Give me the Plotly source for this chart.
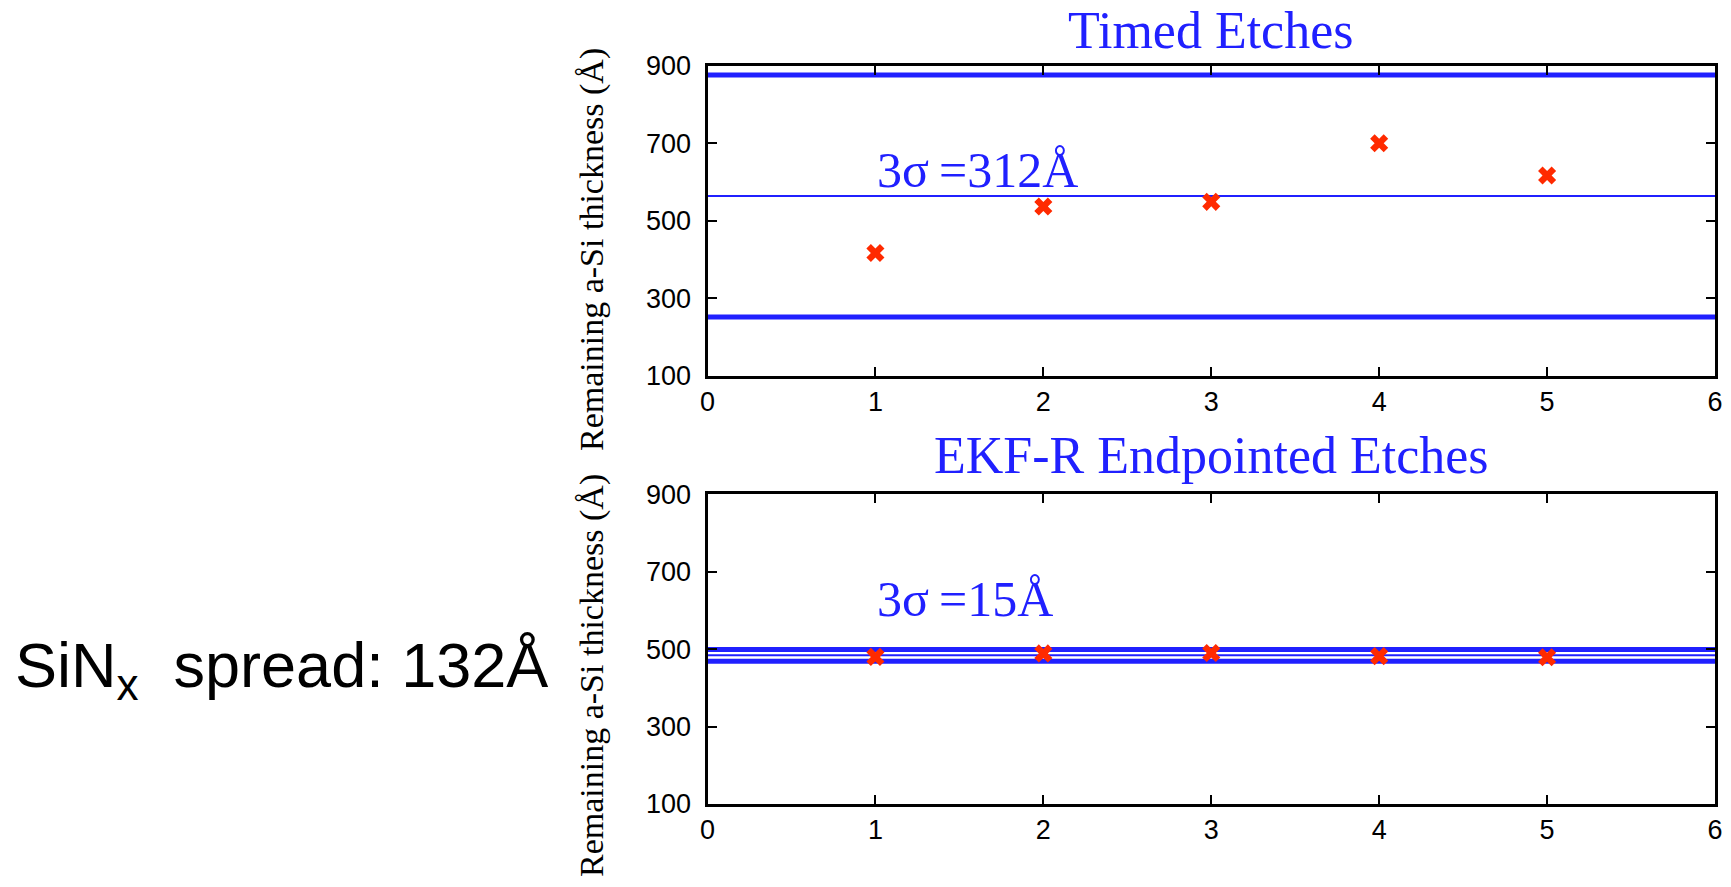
import numpy as np
import plotly.graph_objects as go

# Run index on the x axis
runs = [1, 2, 3, 4, 5]

# Remaining a-Si thickness (Å) per run
timed_thickness = [417, 537, 549, 700, 617]
ekf_thickness = [480, 489, 490, 482, 479]

# 3-sigma spreads (Å) quoted on each panel
timed_3sigma = 312
ekf_3sigma = 15

# Nitride spread quoted at the left
sinx_spread = 132

x_range = [0, 6]
y_ticks = [100, 300, 500, 700, 900]
x_ticks = [0, 1, 2, 3, 4, 5, 6]

W, H = 1731, 887
BLUE = "#2020ff"
RED = "#ff2a00"
SERIF = "Liberation Serif"
SANS = "Liberation Sans"


def py(px):
    """pixel row -> paper y"""
    return 1 - px / H


def px_x(px):
    return px / W


fig = go.Figure()


def add_panel(xa, ya, values, spread):
    mean = float(np.mean(values))
    levels = [(mean + spread, 5), (mean, 2), (mean - spread, 5)]
    for lvl, w in levels:
        fig.add_trace(go.Scatter(
            x=x_range, y=[lvl, lvl], mode="lines",
            line=dict(color=BLUE, width=w),
            xaxis=xa, yaxis=ya, showlegend=False, hoverinfo="skip"))
    fig.add_trace(go.Scatter(
        x=runs, y=values, mode="markers",
        marker=dict(symbol="x", size=16, color=RED, line=dict(width=0)),
        xaxis=xa, yaxis=ya, showlegend=False))


add_panel("x", "y", timed_thickness, timed_3sigma)
add_panel("x2", "y2", ekf_thickness, ekf_3sigma)

x_dom = [px_x(707.5), px_x(1715)]
top_dom = [py(376), py(65.7)]
bot_dom = [py(804), py(494.3)]

axis_common = dict(
    showgrid=False, zeroline=False, showline=True, linecolor="black",
    linewidth=3, mirror="allticks", ticks="inside", ticklen=9,
    tickwidth=2, tickcolor="black",
    tickfont=dict(family=SANS, size=27, color="black"),
)

fig.update_layout(
    width=W, height=H,
    margin=dict(l=0, r=0, t=0, b=0, autoexpand=False),
    paper_bgcolor="white", plot_bgcolor="white",
    xaxis=dict(domain=x_dom, range=x_range, tickvals=x_ticks, anchor="y",
               ticklabelstandoff=0, **axis_common),
    yaxis=dict(domain=top_dom, range=[100, 900], tickvals=y_ticks, anchor="x",
               ticklabelstandoff=8, **axis_common),
    xaxis2=dict(domain=x_dom, range=x_range, tickvals=x_ticks, anchor="y2",
                ticklabelstandoff=0, **axis_common),
    yaxis2=dict(domain=bot_dom, range=[100, 900], tickvals=y_ticks, anchor="x2",
                ticklabelstandoff=8, **axis_common),
)

annotations = [
    # panel titles
    dict(text="Timed Etches", x=px_x(1211), y=py(30), xref="paper", yref="paper",
         xanchor="center", yanchor="middle", showarrow=False,
         font=dict(family=SERIF, size=52, color=BLUE)),
    dict(text="EKF-R Endpointed Etches", x=px_x(1211), y=py(456), xref="paper",
         yref="paper", xanchor="center", yanchor="middle", showarrow=False,
         font=dict(family=SERIF, size=52, color=BLUE)),
    # spread labels inside panels
    dict(text=f"3σ\u2009={timed_3sigma}Å", x=1, y=630, xref="x", yref="y",
         xanchor="left", yanchor="middle", showarrow=False,
         font=dict(family=SERIF, size=50, color=BLUE)),
    dict(text=f"3σ\u2009={ekf_3sigma}Å", x=1, y=630, xref="x2", yref="y2",
         xanchor="left", yanchor="middle", showarrow=False,
         font=dict(family=SERIF, size=50, color=BLUE)),
    # y axis titles
    dict(text="Remaining a-Si thickness (Å)", x=px_x(592), y=py(250),
         xref="paper", yref="paper", xanchor="center", yanchor="middle",
         textangle=-90, showarrow=False,
         font=dict(family=SERIF, size=34, color="black")),
    dict(text="Remaining a-Si thickness (Å)", x=px_x(592), y=py(676),
         xref="paper", yref="paper", xanchor="center", yanchor="middle",
         textangle=-90, showarrow=False,
         font=dict(family=SERIF, size=34, color="black")),
    # nitride spread note
    dict(text=f"SiN<sub>x</sub>  spread: {sinx_spread}Å", x=px_x(13), y=py(669),
         xref="paper", yref="paper", xanchor="left", yanchor="middle",
         showarrow=False, font=dict(family=SANS, size=63, color="black")),
]
fig.update_layout(annotations=annotations)

fig.write_html("out.html")
